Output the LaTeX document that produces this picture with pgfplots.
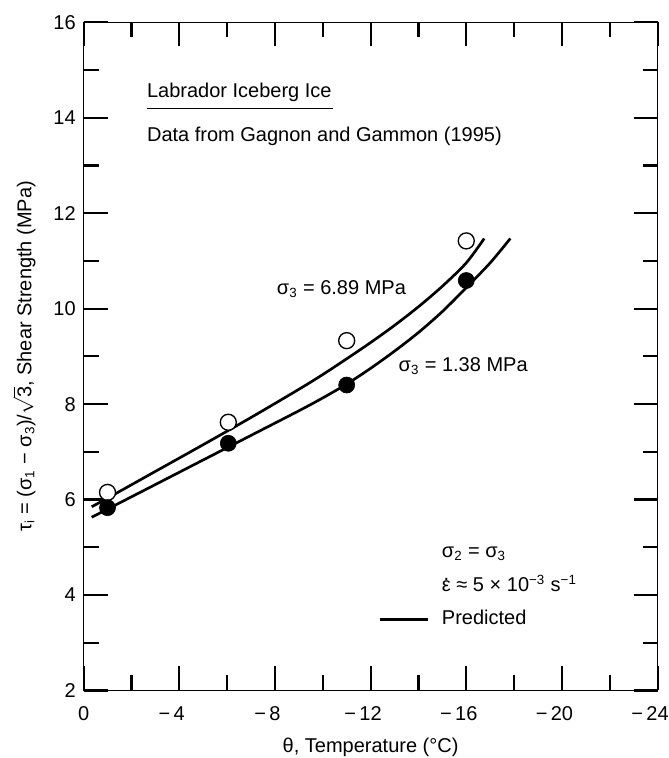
\documentclass[border=0pt]{standalone}
\usepackage{fontspec}
\setmainfont{Liberation Sans}
\usepackage{pgfplots}
\pgfplotsset{compat=1.18}
\newcommand\sub[1]{\textsubscript{#1}}
\newcommand\sups[1]{\textsuperscript{#1}}
\newcommand\epsdot{\ooalign{ε\cr\hfil\smash{\raisebox{0.58em}{.}}\hfil\cr}}
\newcommand\mlab[1]{\llap{−\,}#1}
\begin{document}
\begin{tikzpicture}[font=\fontsize{12}{14.4}\selectfont]
\begin{axis}[
  scale only axis, width=344.4pt, height=400.9pt,
  x dir=reverse, xmin=-24, xmax=0, ymin=2, ymax=16,
  xtick={0,-4,-8,-12,-16,-20,-24},
  xticklabels={0,\mlab{4},\mlab{8},\mlab{12},\mlab{16},\mlab{20},\mlab{24}},
  minor xtick={-2,-6,-10,-14,-18,-22},
  ytick={2,4,6,8,10,12,14,16},
  yticklabels={2,4,6,8,10,12,14,16},
  minor ytick={3,5,7,9,11,13,15},
  major tick length=14.4pt, minor tick length=9pt,
  tick style={line width=1.3pt, black},
  axis line style={line width=0.8pt},
  xticklabel style={yshift=-6.2pt},
  yticklabel style={xshift=-1.2pt},
  xlabel={θ, Temperature (°C)},
  ylabel={τ\sub{i} = (σ\sub{1} − σ\sub{3})/\smash{$\sqrt{\mbox{3}}$}, Shear Strength (MPa)},
  xlabel style={at={(axis description cs:0.5,-0.0846)}, anchor=center},
  ylabel style={at={(axis description cs:-0.1,0.5)}, anchor=center, inner sep=0pt},
  clip=false,
]
% predicted curve, sigma3 = 6.89 MPa
\addplot[line width=1.6pt, smooth] coordinates {
  (-0.34,5.85) (-1,6.03) (-3,6.59) (-5,7.15) (-7,7.72) (-9,8.31) (-10,8.62)
  (-11,8.95) (-12,9.29) (-13,9.65) (-14,10.04) (-15,10.47) (-16,10.96) (-16.75,11.47)};
% predicted curve, sigma3 = 1.38 MPa
\addplot[line width=1.6pt, smooth] coordinates {
  (-0.34,5.63) (-1,5.80) (-3,6.315) (-5,6.83) (-7,7.345) (-9,7.86) (-10,8.13)
  (-11,8.42) (-12,8.75) (-13,9.11) (-14,9.50) (-15,9.94) (-16,10.44) (-17,10.96) (-17.84,11.47)};
% data: sigma3 = 6.89 MPa (open)
\addplot[only marks, mark=*, mark size=4.8pt,
  mark options={fill=white, draw=black, line width=0.8pt}] coordinates {
  (-1,6.15) (-6.05,7.62) (-11,9.33) (-16,11.42)};
% data: sigma3 = 1.38 MPa (filled)
\addplot[only marks, mark=*, mark size=4.8pt, black] coordinates {
  (-1,5.83) (-6.05,7.18) (-11,8.40) (-16,10.59)};
% legend line
\addplot[line width=1.6pt] coordinates {(-12.39,3.49) (-14.41,3.49)};
\node[anchor=base west, inner sep=0] at (axis cs:-2.64,14.42) {Labrador Iceberg Ice};
\draw[line width=0.8pt] (axis cs:-2.64,14.19) -- (axis cs:-10.43,14.19);
\node[anchor=base west, inner sep=0] at (axis cs:-2.64,13.50) {Data from Gagnon and Gammon (1995)};
\node[anchor=base west, inner sep=0] at (axis cs:-8.07,10.29) {σ\sub{3} = 6.89 MPa};
\node[anchor=base west, inner sep=0] at (axis cs:-13.16,8.68) {σ\sub{3} = 1.38 MPa};
\node[anchor=base west, inner sep=0] at (axis cs:-14.97,4.79) {σ\sub{2} = σ\sub{3}};
\node[anchor=base west, inner sep=0] at (axis cs:-14.97,4.07) {\epsdot{} ≈ 5 × 10\sups{−3} s\sups{−1}};
\node[anchor=base west, inner sep=0] at (axis cs:-14.97,3.39) {Predicted};
\end{axis}
\pgfresetboundingbox
\path[use as bounding box] ([shift={(-50.16pt,-40.5pt)}]current axis.south west)
  rectangle ([shift={(6.78pt,13.38pt)}]current axis.north east);
\end{tikzpicture}
\end{document}
